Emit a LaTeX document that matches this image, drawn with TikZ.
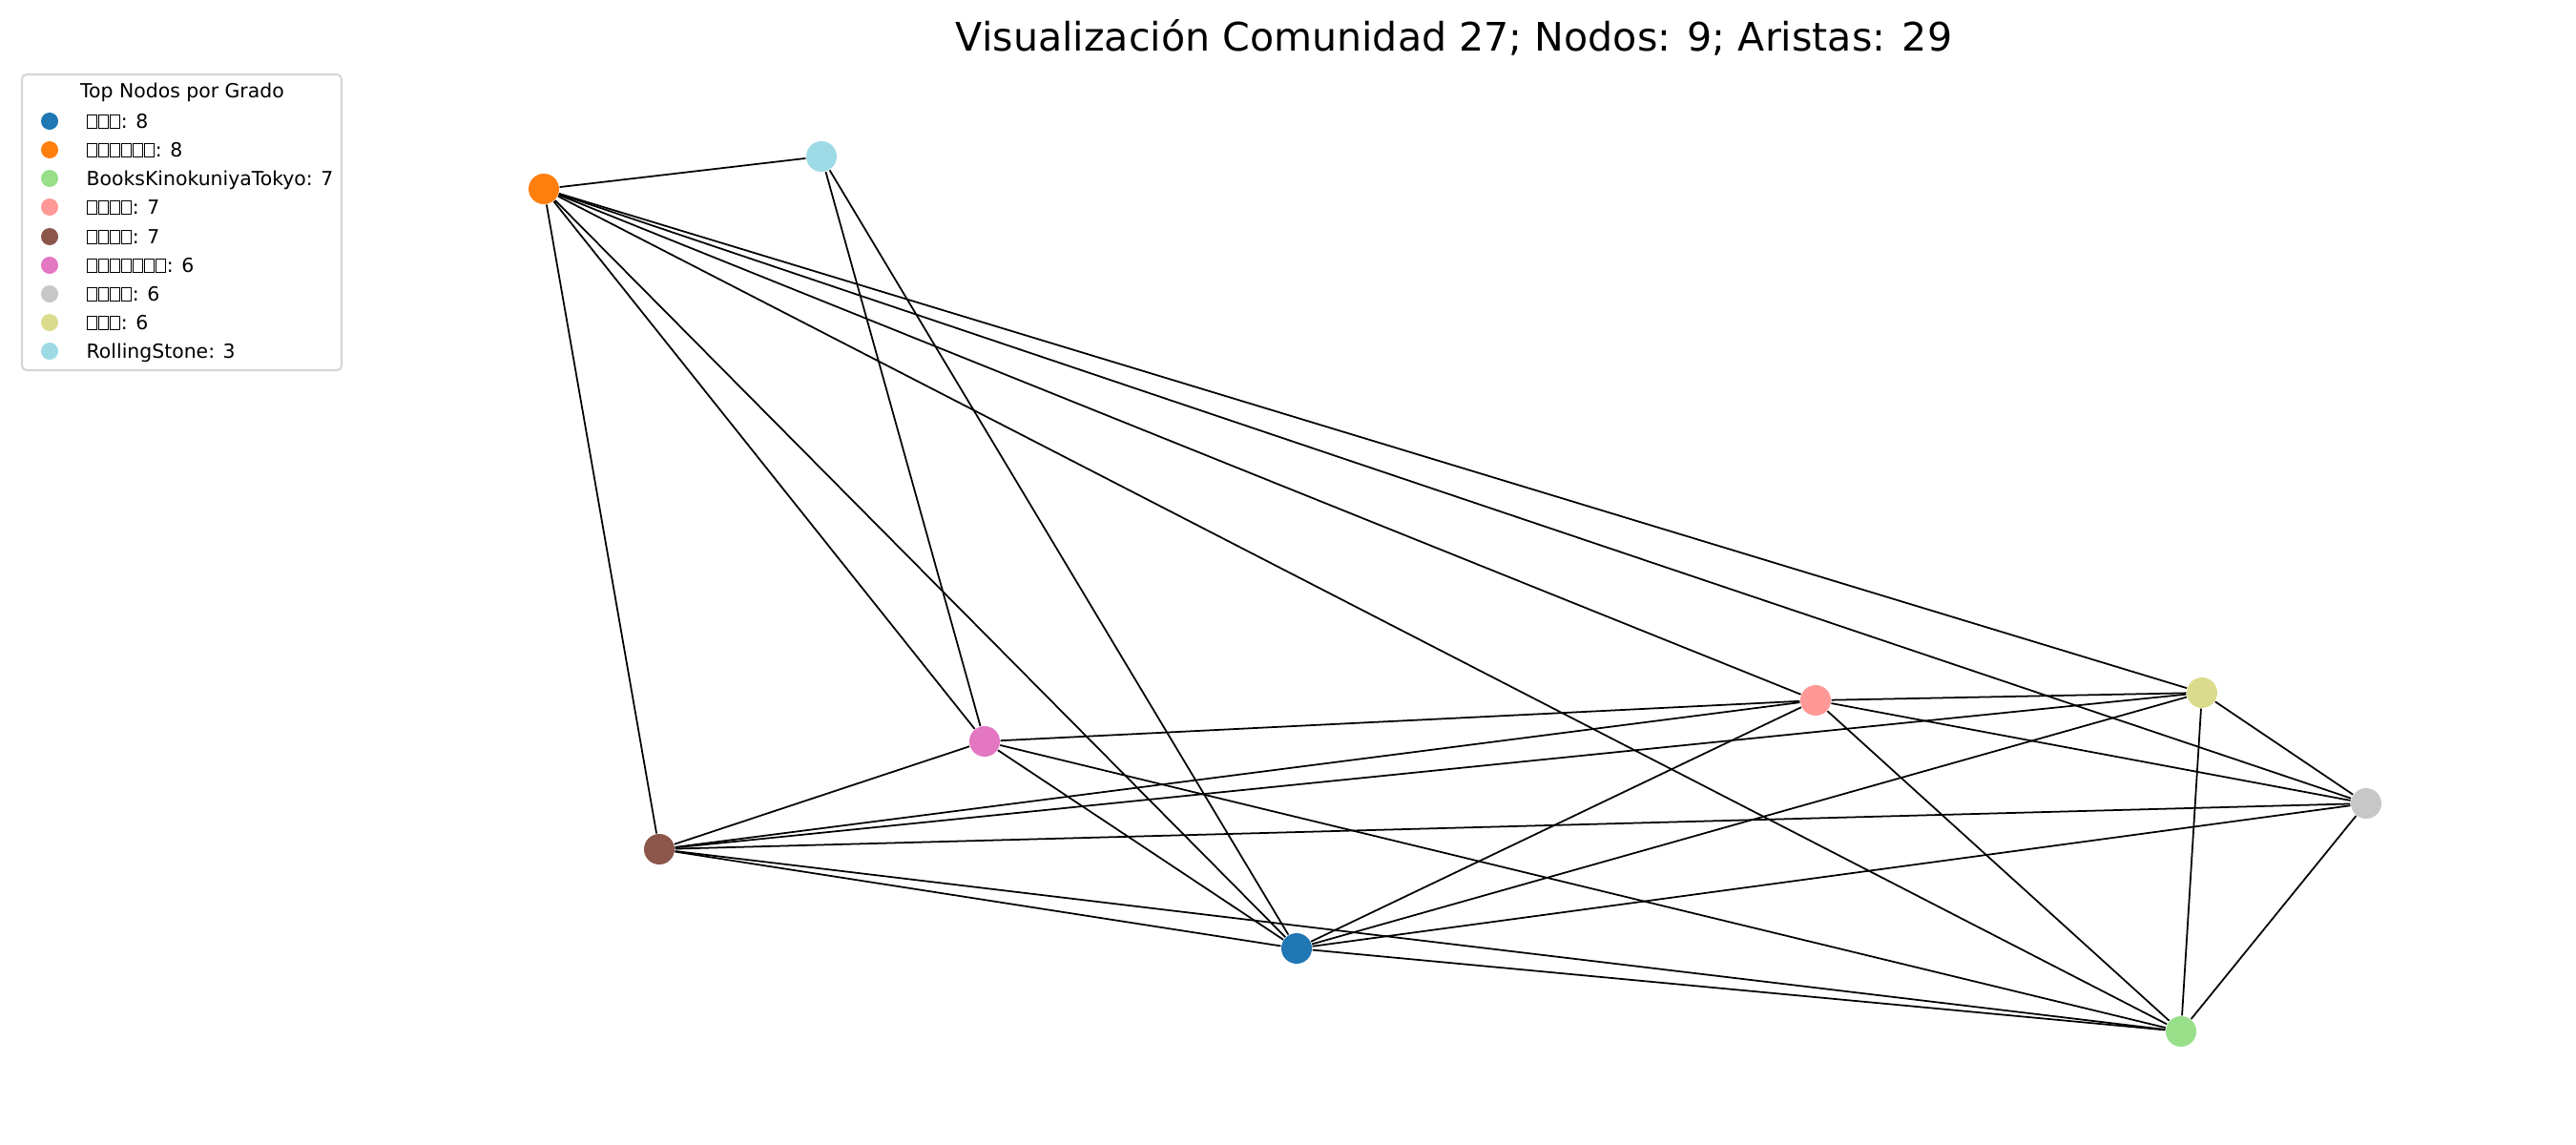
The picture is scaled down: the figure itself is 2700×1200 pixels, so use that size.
\documentclass[tikz,border=0pt]{standalone}
\usepackage{fontspec}
\setmainfont{DejaVu Sans}
\definecolor{cBlue}{HTML}{1F77B4}
\definecolor{cOrange}{HTML}{FF7F0E}
\definecolor{cGreen}{HTML}{98DF8A}
\definecolor{cSalmon}{HTML}{FF9896}
\definecolor{cBrown}{HTML}{8C564B}
\definecolor{cPink}{HTML}{E377C2}
\definecolor{cGray}{HTML}{C7C7C7}
\definecolor{cOlive}{HTML}{DBDB8D}
\definecolor{cCyan}{HTML}{9EDAE5}
\definecolor{cFrame}{HTML}{D6D6D6}
% empty box for a missing glyph
\newcommand{\nochar}{{\setlength{\fboxsep}{0pt}\setlength{\fboxrule}{0.05em}\fbox{\rule{0pt}{0.63em}\hspace{0.44em}}}\kern0.05em}

\begin{document}
\begin{tikzpicture}[x=0.01cm,y=-0.01cm,
  vertex/.style={circle,minimum size=0.32cm,inner sep=0pt},
  edge/.style={line width=0.5pt,black},
  legmark/.style={circle,minimum size=0.18cm,inner sep=0pt},
  legtext/.style={anchor=base west,inner sep=0pt,font=\fontsize{5.8}{7}\selectfont}]
\useasboundingbox (0,0) rectangle (2700,1200);
\node[anchor=base,inner sep=0pt,font=\fontsize{11.7}{14}\selectfont] (title) at (1524,54) {Visualización Comunidad 27; Nodos: 9; Aristas: 29};

% legend
\draw[cFrame,line width=0.6pt,rounded corners=0.05cm] (23,78) rectangle (358,388);
\node[legtext,anchor=base] (legtitle) at (191,102) {Top Nodos por Grado};
\node[legmark,fill=cBlue] (m1) at (52,127) {};
\node[legtext] (t1) at (90,134) {\nochar\nochar\nochar: 8};
\node[legmark,fill=cOrange] (m2) at (52,157) {};
\node[legtext] (t2) at (90,164) {\nochar\nochar\nochar\nochar\nochar\nochar: 8};
\node[legmark,fill=cGreen] (m3) at (52,187) {};
\node[legtext] (t3) at (90,194) {BooksKinokuniyaTokyo: 7};
\node[legmark,fill=cSalmon] (m4) at (52,217) {};
\node[legtext] (t4) at (90,224) {\nochar\nochar\nochar\nochar: 7};
\node[legmark,fill=cBrown] (m5) at (52,248) {};
\node[legtext] (t5) at (90,255) {\nochar\nochar\nochar\nochar: 7};
\node[legmark,fill=cPink] (m6) at (52,278) {};
\node[legtext] (t6) at (90,285) {\nochar\nochar\nochar\nochar\nochar\nochar\nochar: 6};
\node[legmark,fill=cGray] (m7) at (52,308) {};
\node[legtext] (t7) at (90,315) {\nochar\nochar\nochar\nochar: 6};
\node[legmark,fill=cOlive] (m8) at (52,338) {};
\node[legtext] (t8) at (90,345) {\nochar\nochar\nochar: 6};
\node[legmark,fill=cCyan] (m9) at (52,368) {};
\node[legtext] (t9) at (90,375) {RollingStone: 3};

% graph
\node[vertex,fill=cOrange] (orange) at (570,198) {};
\node[vertex,fill=cCyan] (rolling) at (861,164) {};
\node[vertex,fill=cPink] (pink) at (1032,777) {};
\node[vertex,fill=cBrown] (brown) at (691,890) {};
\node[vertex,fill=cBlue] (blue) at (1359,994) {};
\node[vertex,fill=cSalmon] (salmon) at (1903,734) {};
\node[vertex,fill=cOlive] (olive) at (2308,726) {};
\node[vertex,fill=cGray] (gray) at (2480,842) {};
\node[vertex,fill=cGreen] (books) at (2286,1081) {};

\draw[edge] (orange) -- (rolling);
\draw[edge] (orange) -- (brown);
\draw[edge] (orange) -- (pink);
\draw[edge] (orange) -- (blue);
\draw[edge] (orange) -- (salmon);
\draw[edge] (orange) -- (olive);
\draw[edge] (orange) -- (gray);
\draw[edge] (orange) -- (books);
\draw[edge] (rolling) -- (pink);
\draw[edge] (rolling) -- (blue);
\draw[edge] (brown) -- (pink);
\draw[edge] (brown) -- (salmon);
\draw[edge] (brown) -- (olive);
\draw[edge] (brown) -- (gray);
\draw[edge] (brown) -- (blue);
\draw[edge] (brown) -- (books);
\draw[edge] (pink) -- (blue);
\draw[edge] (pink) -- (books);
\draw[edge] (pink) -- (salmon);
\draw[edge] (salmon) -- (blue);
\draw[edge] (salmon) -- (books);
\draw[edge] (salmon) -- (gray);
\draw[edge] (salmon) -- (olive);
\draw[edge] (olive) -- (blue);
\draw[edge] (olive) -- (gray);
\draw[edge] (olive) -- (books);
\draw[edge] (gray) -- (blue);
\draw[edge] (gray) -- (books);
\draw[edge] (blue) -- (books);
\end{tikzpicture}
\end{document}
